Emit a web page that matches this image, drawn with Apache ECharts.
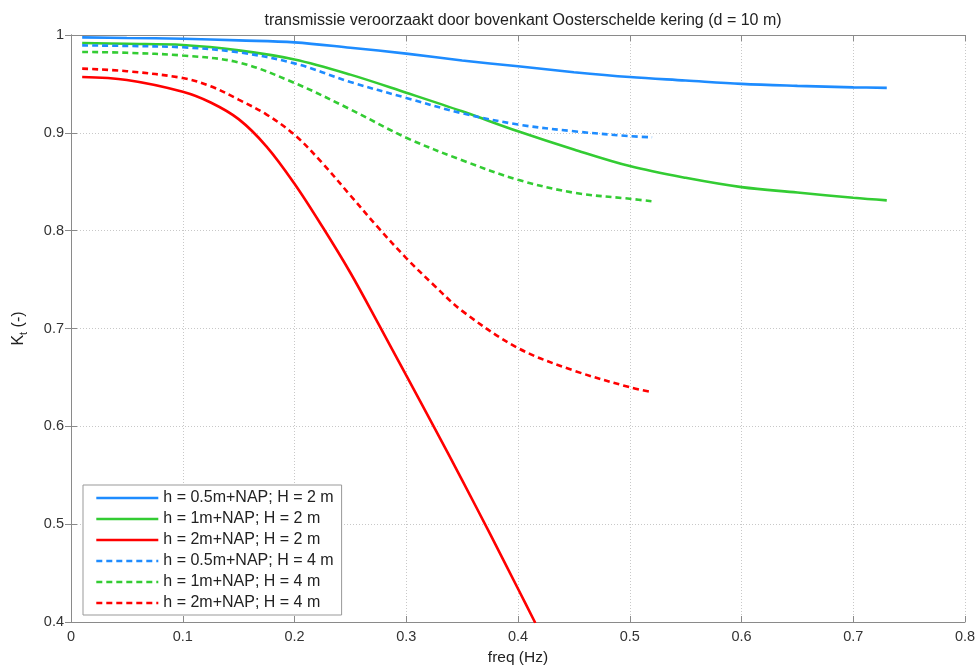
<!DOCTYPE html>
<html><head><meta charset="utf-8">
<script src="https://cdn.jsdelivr.net/npm/echarts@6/dist/echarts.min.js"></script>
<style>html,body{margin:0;padding:0;background:#fff}#c{width:978px;height:666px}</style>
</head><body><div id="c"></div>
<script>
const titleText = 'transmissie veroorzaakt door bovenkant Oosterschelde kering (d = 10 m)';
const xTicks = [0, 0.1, 0.2, 0.3, 0.4, 0.5, 0.6, 0.7, 0.8];
const yTicks = [0.4, 0.5, 0.6, 0.7, 0.8, 0.9, 1];
const names = ['h = 0.5m+NAP; H = 2 m','h = 1m+NAP; H = 2 m','h = 2m+NAP; H = 2 m',
               'h = 0.5m+NAP; H = 4 m','h = 1m+NAP; H = 4 m','h = 2m+NAP; H = 4 m'];

const freqLong = [0.01,0.05,0.1,0.15,0.2,0.25,0.3,0.35,0.4,0.45,0.5,0.55,0.6,0.65,0.7,0.73];
const blueSolid = [0.9976,0.997,0.9962,0.9945,0.9925,0.987,0.981,0.974,0.968,0.962,0.957,0.9535,0.950,0.948,0.9465,0.946];
const greenSolid = [0.9918,0.991,0.9898,0.9843,0.975,0.9595,0.941,0.922,0.9016,0.883,0.866,0.854,0.8445,0.839,0.8336,0.831];

const freqShort = [0.01,0.05,0.1,0.15,0.2,0.25,0.3,0.35,0.4,0.45,0.5,0.52];
const blueDashed = [0.9894,0.9888,0.9874,0.9823,0.971,0.952,0.9357,0.920,0.9085,0.9016,0.8966,0.8955];
const greenDashed = [0.9827,0.9818,0.979,0.972,0.951,0.924,0.895,0.872,0.852,0.8388,0.8326,0.830];

const freqRedDashed = [0.01,0.05,0.1,0.125,0.15,0.175,0.2,0.225,0.25,0.275,0.3,0.325,0.35,0.4,0.45,0.5,0.52];
const redDashed = [0.9656,0.963,0.956,0.9476,0.934,0.9187,0.898,0.869,0.836,0.803,0.772,0.744,0.718,0.680,0.657,0.640,0.635];

const freqRedSolid = [0.01,0.05,0.1,0.125,0.15,0.175,0.2,0.225,0.25,0.275,0.3,0.325,0.35,0.375,0.4,0.4155];
const redSolid = [0.957,0.954,0.942,0.931,0.914,0.886,0.848,0.804,0.757,0.705,0.652,0.599,0.545,0.490,0.434,0.399];

const BLUE = '#1e8cff', GREEN = '#33cc33', RED = '#ff0000';
const pair = (xs, ys) => xs.map((x, i) => [x, ys[i]]);

const FONT = 'Liberation Sans';
function mkSeries(name, xs, ys, color, dashed) {
  return {
    name, type: 'line', data: pair(xs, ys), smooth: 0.35, symbol: 'none', clip: true,
    lineStyle: { color, width: 2.6, type: dashed ? [6, 4] : 'solid' },
    itemStyle: { color }
  };
}

const chart = echarts.init(document.getElementById('c'), null, { renderer: 'canvas' });
const axisLine = { show: true, lineStyle: { color: '#8a8a8a', width: 1 } };
const tick = { show: true, inside: true, length: 6, lineStyle: { color: '#8a8a8a' } };
chart.setOption({
  animation: false,
  backgroundColor: '#fff',
  textStyle: { fontFamily: FONT },
  title: { text: titleText, left: 518, textAlign: 'center', top: 8,
           textStyle: { fontSize: 16, fontWeight: 'normal', color: '#222', fontFamily: FONT } },
  grid: { left: 71, right: 13, top: 35, bottom: 44, containLabel: false, outerBoundsMode: 'none' },
  legend: {
    orient: 'vertical', left: 83, top: 485, itemWidth: 62, itemHeight: 14, itemGap: 5,
    padding: [5, 8, 4, 12], backgroundColor: '#fff', borderColor: '#999', borderWidth: 1,
    itemStyle: { opacity: 0 },
    lineStyle: { width: 2.6 },
    textStyle: { fontSize: 16, color: '#222', fontFamily: FONT },
    data: names
  },
  xAxis: [{
    type: 'value', min: 0, max: 0.8, interval: 0.1, position: 'bottom',
    name: 'freq (Hz)', nameLocation: 'middle', nameGap: 28,
    nameTextStyle: { fontSize: 15.5, color: '#222', fontFamily: FONT },
    axisLine, axisTick: tick,
    axisLabel: { fontSize: 14.5, color: '#333', margin: 7, formatter: v => String(+v.toFixed(1)) },
    splitLine: { show: true, lineStyle: { color: '#c8c8c8', type: [1, 2], width: 1 } }
  }, {
    type: 'value', min: 0, max: 0.8, interval: 0.1, position: 'top',
    axisLine, axisTick: tick, axisLabel: { show: false }, splitLine: { show: false }
  }],
  yAxis: [{
    type: 'value', min: 0.4, max: 1, interval: 0.1, position: 'left',
    name: 'K{s|t} (-)', nameLocation: 'middle', nameGap: 42, nameRotate: 90,
    nameTextStyle: { fontSize: 16, color: '#222', fontFamily: FONT,
      rich: { s: { fontSize: 11, color: '#222', fontFamily: FONT, padding: [9, 0, 0, 0] } } },
    axisLine, axisTick: tick,
    axisLabel: { fontSize: 14.5, color: '#333', margin: 7, formatter: v => String(+v.toFixed(1)) },
    splitLine: { show: true, lineStyle: { color: '#c8c8c8', type: [1, 2], width: 1 } }
  }, {
    type: 'value', min: 0.4, max: 1, interval: 0.1, position: 'right',
    axisLine, axisTick: tick, axisLabel: { show: false }, splitLine: { show: false }
  }],
  series: [
    mkSeries(names[0], freqLong, blueSolid, BLUE, false),
    mkSeries(names[1], freqLong, greenSolid, GREEN, false),
    mkSeries(names[2], freqRedSolid, redSolid, RED, false),
    mkSeries(names[3], freqShort, blueDashed, BLUE, true),
    mkSeries(names[4], freqShort, greenDashed, GREEN, true),
    mkSeries(names[5], freqRedDashed, redDashed, RED, true)
  ]
});
</script></body></html>
